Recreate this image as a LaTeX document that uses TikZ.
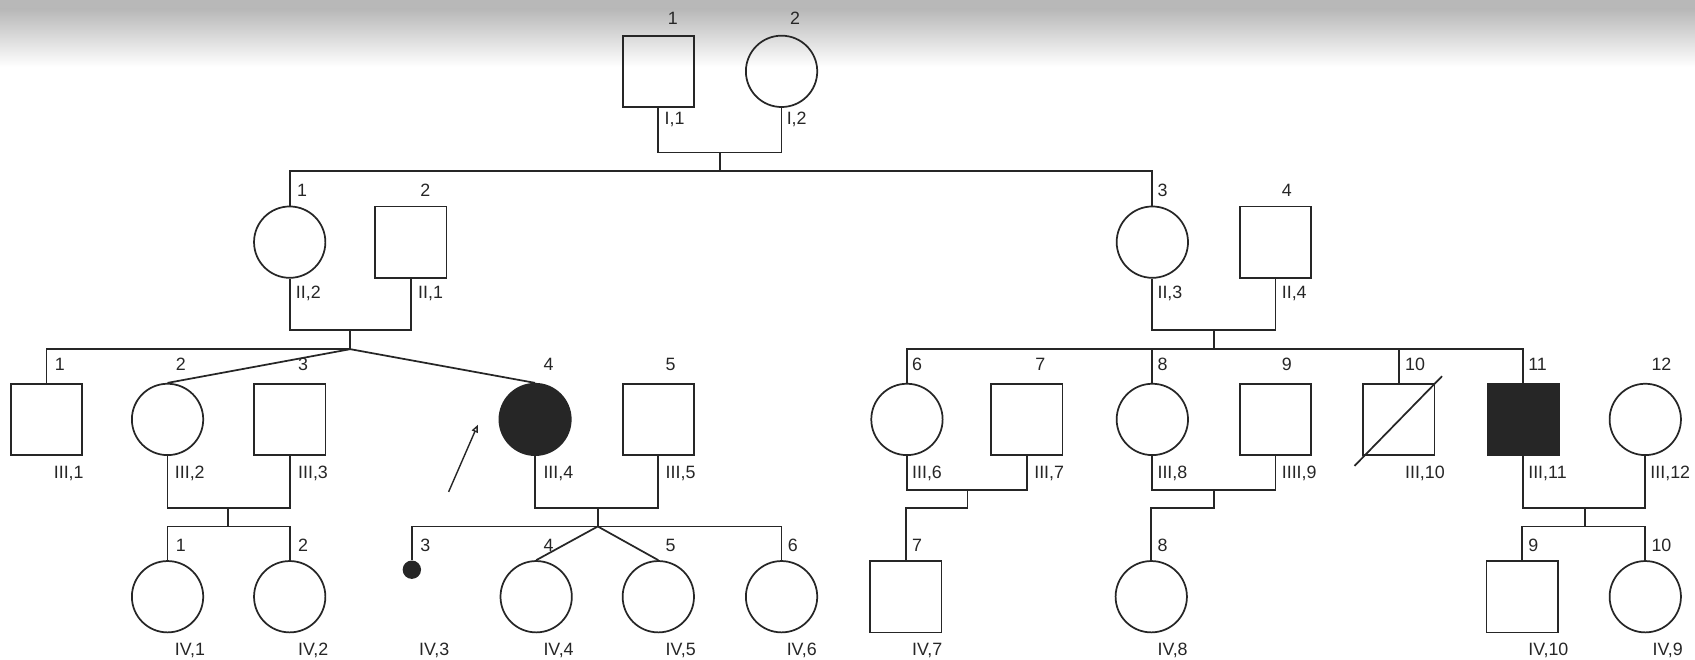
\documentclass[tikz,border=0pt]{standalone}
\usepackage{fontspec}
\setmainfont{Liberation Sans}
\usetikzlibrary{arrows.meta}
\tikzset{
  male/.style={draw, rectangle, minimum width=66pt, minimum height=66pt, inner sep=0pt},
  female/.style={draw, circle, minimum size=66pt, inner sep=0pt},
  affected/.style={fill=black!85},
  lab/.style={inner sep=0pt, anchor=base west, font=\fontsize{16.5}{16.5}\selectfont, text=black!85},
  conn/.style={line width=1.6pt, black!85},
}
\begin{document}
\begin{tikzpicture}[x=1pt, y=-1pt, line width=1.6pt, draw=black!85]
\useasboundingbox (0,0) rectangle (1568,610);
\fill[white] (0,0) rectangle (1568,610);
\fill[black!28] (0,0) rectangle (1568,8);
\fill[top color=black!28, bottom color=white, draw=none] (0,8) rectangle (1568,62);

% Generation I
\node[male]   (I1) at (609,66) {};
\node[female] (I2) at (723,66) {};
% Generation II
\node[female] (II2) at (268,224) {};
\node[male]   (II1) at (380,224) {};
\node[female] (II3) at (1066,224) {};
\node[male]   (II4) at (1180,224) {};
% Generation III
\node[male]   (III1) at (43,388) {};
\node[female] (III2) at (155,388) {};
\node[male]   (III3) at (268,388) {};
\node[female, affected] (III4) at (495,388) {};
\node[male]   (III5) at (609,388) {};
\node[female] (III6) at (839,388) {};
\node[male]   (III7) at (950,388) {};
\node[female] (III8) at (1066,388) {};
\node[male]   (III9) at (1180,388) {};
\node[male]   (III10) at (1294,388) {};
\node[male, affected] (III11) at (1409,388) {};
\node[female] (III12) at (1522,388) {};
% Generation IV
\node[female] (IV1) at (155,552) {};
\node[female] (IV2) at (268,552) {};
\node[circle, fill=black!85, minimum size=17pt, inner sep=0pt] (IV3) at (381,527) {};
\node[female] (IV4) at (496,552) {};
\node[female] (IV5) at (609,552) {};
\node[female] (IV6) at (723,552) {};
\node[male]   (IV7) at (838,552) {};
\node[female] (IV8) at (1065,552) {};
\node[male]   (IV10) at (1408,552) {};
\node[female] (IV9) at (1522,552) {};

% junction coordinates
\coordinate (mI) at (666,141); \coordinate (sI) at (666,158);
\coordinate (mA) at (324,305); \coordinate (sA) at (324,323);
\coordinate (mB) at (1123,305); \coordinate (sB) at (1123,323);
\coordinate (mC) at (211,470); \coordinate (sC) at (211,487);
\coordinate (mD) at (553,470); \coordinate (sD) at (553,487);
\coordinate (mE) at (895,453); \coordinate (sE) at (895,470);
\coordinate (mF) at (1123,453); \coordinate (sF) at (1123,470);
\coordinate (mG) at (1466,470); \coordinate (sG) at (1466,487);

% connectors
\draw[conn] (I1.south) |- (mI) -| (I2.south);
\draw[conn] (mI) -- (sI);
\draw[conn] (II2.north) |- (sI) -| (II3.north);

\draw[conn] (II2.south) |- (mA) -| (II1.south);
\draw[conn] (mA) -- (sA);
\draw[conn] (sA) -| (III1.north);
\draw[conn] (sA) -- (III2.north);
\draw[conn] (sA) -- (III4.north);

\draw[conn] (II3.south) |- (mB) -| (II4.south);
\draw[conn] (mB) -- (sB);
\draw[conn] (III6.north) |- (sB) -| (III11.north);
\draw[conn] (III8.north) -- (III8.north |- sB);
\draw[conn] (III10.north) -- (III10.north |- sB);

\draw[conn] (III2.south) |- (mC) -| (III3.south);
\draw[conn] (mC) -- (sC);
\draw[conn] (IV1.north) |- (sC) -| (IV2.north);

\draw[conn] (III4.south) |- (mD) -| (III5.south);
\draw[conn] (mD) -- (sD);
\draw[conn] (IV3.north) |- (sD) -| (IV6.north);
\draw[conn] (sD) -- (IV4.north);
\draw[conn] (sD) -- (IV5.north);

\draw[conn] (III6.south) |- (mE) -| (III7.south);
\draw[conn] (mE) -- (sE) -| (IV7.north);

\draw[conn] (III8.south) |- (mF) -| (III9.south);
\draw[conn] (mF) -- (sF) -| (IV8.north);

\draw[conn] (III11.south) |- (mG) -| (III12.south);
\draw[conn] (mG) -- (sG);
\draw[conn] (IV10.north) |- (sG) -| (IV9.north);

% deceased slash
\coordinate (slA) at (1253,431); \coordinate (slB) at (1334,348);
\draw[conn] (slA) -- (slB);

% proband arrow
\coordinate (arS) at (415,455); \coordinate (arT) at (442,393);
\draw[conn, line width=1.3pt, -{Triangle[open, length=7pt, width=6pt]}] (arS) -- (arT);

% labels generation I
\node[lab] (n11) at (617,23) {1};
\node[lab] (n12) at (730,23) {2};
\node[lab] (r11) at (614,115) {I,1};
\node[lab] (r12) at (727,115) {I,2};
% generation II
\node[lab] (n21) at (274,182) {1};
\node[lab] (n22) at (388,182) {2};
\node[lab] (n23) at (1070,182) {3};
\node[lab] (n24) at (1185,182) {4};
\node[lab] (r22) at (273,276) {II,2};
\node[lab] (r21) at (386,276) {II,1};
\node[lab] (r23) at (1070,276) {II,3};
\node[lab] (r24) at (1185,276) {II,4};
% generation III
\node[lab] (n31) at (50,343) {1};
\node[lab] (n32) at (162,343) {2};
\node[lab] (n33) at (275,343) {3};
\node[lab] (n34) at (502,343) {4};
\node[lab] (n35) at (615,343) {5};
\node[lab] (n36) at (843,343) {6};
\node[lab] (n37) at (957,343) {7};
\node[lab] (n38) at (1070,343) {8};
\node[lab] (n39) at (1185,343) {9};
\node[lab] (n310) at (1299,343) {10};
\node[lab] (n311) at (1413,343) {11};
\node[lab] (n312) at (1527,343) {12};
\node[lab] (r31) at (49,443) {III,1};
\node[lab] (r32) at (161,443) {III,2};
\node[lab] (r33) at (275,443) {III,3};
\node[lab] (r34) at (502,443) {III,4};
\node[lab] (r35) at (615,443) {III,5};
\node[lab] (r36) at (843,443) {III,6};
\node[lab] (r37) at (956,443) {III,7};
\node[lab] (r38) at (1070,443) {III,8};
\node[lab] (r39) at (1185,443) {IIII,9};
\node[lab] (r310) at (1299,443) {III,10};
\node[lab] (r311) at (1413,443) {III,11};
\node[lab] (r312) at (1526,443) {III,12};
% generation IV
\node[lab] (n41) at (162,510) {1};
\node[lab] (n42) at (275,510) {2};
\node[lab] (n43) at (388,510) {3};
\node[lab] (n44) at (502,510) {4};
\node[lab] (n45) at (615,510) {5};
\node[lab] (n46) at (728,510) {6};
\node[lab] (n47) at (843,510) {7};
\node[lab] (n48) at (1070,510) {8};
\node[lab] (n49) at (1413,510) {9};
\node[lab] (n410) at (1527,510) {10};
\node[lab] (r41) at (161,606) {IV,1};
\node[lab] (r42) at (275,606) {IV,2};
\node[lab] (r43) at (387,606) {IV,3};
\node[lab] (r44) at (502,606) {IV,4};
\node[lab] (r45) at (615,606) {IV,5};
\node[lab] (r46) at (727,606) {IV,6};
\node[lab] (r47) at (843,606) {IV,7};
\node[lab] (r48) at (1070,606) {IV,8};
\node[lab] (r410) at (1413,606) {IV,10};
\node[lab] (r49) at (1528,606) {IV,9};
\end{tikzpicture}
\end{document}
